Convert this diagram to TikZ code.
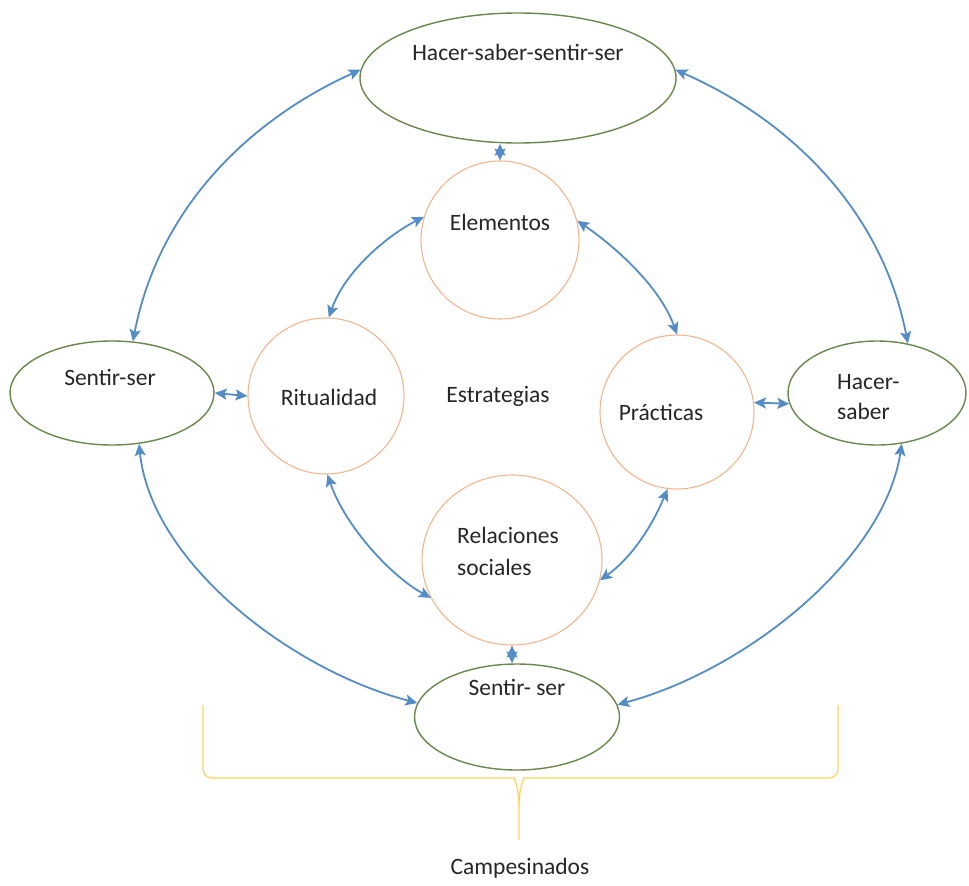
\documentclass[tikz,border=0pt]{standalone}
\usepackage{fontspec}
\setmainfont{Carlito}
\usetikzlibrary{shapes.geometric,arrows.meta}
\definecolor{egreen}{RGB}{105,135,75}
\definecolor{corange}{RGB}{244,180,140}
\definecolor{ablue}{RGB}{84,140,200}
\definecolor{byellow}{RGB}{255,212,90}
\begin{document}
\begin{tikzpicture}[x=1pt,y=-1pt,
  outer/.style={draw=egreen,line width=1.4pt,ellipse,inner sep=0pt},
  inner/.style={draw=corange,line width=1.1pt,ellipse,inner sep=0pt},
  lbl/.style={font=\fontsize{23.5}{30}\selectfont,text=black!85,inner sep=0pt},
  link/.style={draw=ablue,line width=1.8pt,{Stealth[length=12pt,width=11pt,inset=2.5pt]}-{Stealth[length=12pt,width=11pt,inset=2.5pt]}},
  bracestyle/.style={draw=byellow,line width=1.2pt}]
\useasboundingbox (0,0) rectangle (969,886);
% outer ellipses
\node[outer,minimum width=316pt,minimum height=130pt] (top) at (518,78) {};
\node[outer,minimum width=204pt,minimum height=104pt] (sl) at (112,393) {};
\node[outer,minimum width=178pt,minimum height=104pt] (hs) at (877,393) {};
\node[outer,minimum width=205pt,minimum height=106pt] (bot) at (517,717) {};
% inner circles
\node[inner,minimum width=158pt,minimum height=158pt] (el) at (500,240) {};
\node[inner,minimum width=156pt,minimum height=156pt] (ri) at (326,396) {};
\node[inner,minimum width=154pt,minimum height=154pt] (pr) at (677,412) {};
\node[inner,minimum width=180pt,minimum height=170pt] (rs) at (512,560) {};
% labels
\node[lbl] (ttop) at (518,52) {Hacer-saber-sentir-ser};
\node[lbl] (tsl) at (110,377) {Sentir-ser};
\node[lbl,align=left,anchor=west] (ths) at (837,397) {Hacer-\\saber};
\node[lbl] (tbot) at (517,687) {Sentir- ser};
\node[lbl] (tel) at (500,222) {Elementos};
\node[lbl] (tri) at (329,397) {Ritualidad};
\node[lbl] (tpr) at (661,412) {Prácticas};
\node[lbl,align=left,anchor=west,font=\fontsize{23.5}{32}\selectfont] (trs) at (457,551) {Relaciones\\sociales};
\node[lbl] (test) at (498,396) {Estrategias};
\node[lbl] (tcamp) at (520,868) {Campesinados};
% long curved connectors
\draw[link] (top.177) .. controls +(-100,45) and +(28,-143) .. (sl.68);
\draw[link] (top.3) .. controls +(103,45) and +(-28,-143) .. (hs.58);
\draw[link] (sl.-62) .. controls +(12,118) and +(-127,-33) .. (bot.172);
\draw[link] (hs.-64) .. controls +(-17,115) and +(130,-35) .. (bot.7);
% inner ring connectors
\draw[link] (el.163) .. controls +(-35,18) and +(17,-48) .. (ri.88);
\draw[link] (el.14) .. controls +(37,25) and +(-17,-48) .. (pr.90);
\draw[link] (ri.-89) .. controls +(18,52) and +(-40,-22) .. (rs.205);
\draw[link] (pr.263) .. controls +(-18,43) and +(28,-20) .. (rs.-13);
% short connectors
\draw[link] (el.north |- top.south) -- (el.north);
\draw[link] (sl.east) -- (ri.west);
\draw[link] (pr.7) -- (hs.187);
\draw[link] (rs.south) -- (rs.south |- bot.north);
% brace
\coordinate (bl) at (203,705);
\coordinate (br) at (838,705);
\coordinate (bt) at (519,840);
\draw[bracestyle,rounded corners=9pt] (bl) -- (203,778) -- (505,778)
  [sharp corners] .. controls (514,778) and (519,788) .. (519,805) -- (bt);
\draw[bracestyle,rounded corners=9pt] (br) -- (838,778) -- (533,778)
  [sharp corners] .. controls (524,778) and (519,788) .. (519,805);
\end{tikzpicture}
\end{document}
